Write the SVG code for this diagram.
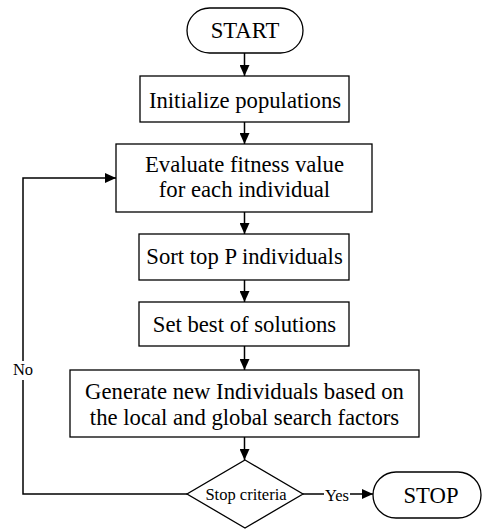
<svg xmlns="http://www.w3.org/2000/svg" width="484" height="529" viewBox="0 0 484 529">
<style>
.box{fill:#fff;stroke:#000;stroke-width:1.3}
.t{font-family:"Liberation Serif","Times New Roman",serif;font-size:22.7px;fill:#000;text-anchor:middle}
.s{font-family:"Liberation Serif","Times New Roman",serif;font-size:16.5px;fill:#000;text-anchor:middle}
.c{fill:none;stroke:#000;stroke-width:1.5}
</style>
<defs>
<marker id="ah" markerUnits="userSpaceOnUse" markerWidth="11" markerHeight="10" refX="11" refY="5" orient="auto">
<path d="M0,0 L11,5 L0,10 Z" fill="#000"/>
</marker>
</defs>
<rect width="484" height="529" fill="#fff"/>
<g id="connectors">
<line class="c" x1="244.5" y1="53" x2="244.5" y2="76" marker-end="url(#ah)"/>
<line class="c" x1="244.5" y1="122" x2="244.5" y2="144" marker-end="url(#ah)"/>
<line class="c" x1="244.5" y1="212" x2="244.5" y2="234" marker-end="url(#ah)"/>
<line class="c" x1="244.5" y1="280" x2="244.5" y2="302" marker-end="url(#ah)"/>
<line class="c" x1="244.5" y1="346" x2="244.5" y2="370" marker-end="url(#ah)"/>
<line class="c" x1="244.5" y1="437" x2="244.5" y2="460" marker-end="url(#ah)"/>
<polyline class="c" points="187,494 23,494 23,178 116,178" marker-end="url(#ah)"/>
<line class="c" x1="303" y1="494" x2="373" y2="494" marker-end="url(#ah)"/>
<rect x="12" y="361" width="22" height="19" fill="#fff"/>
<text class="s" x="23" y="375">No</text>
<rect x="324" y="486" width="26" height="17" fill="#fff"/>
<text class="s" x="337" y="501">Yes</text>
</g>
<g id="start">
<rect class="box" x="187" y="8" width="116" height="45" rx="22.5"/>
<text class="t" x="245" y="38">START</text>
</g>
<g id="init">
<rect class="box" x="140" y="76" width="209" height="46"/>
<text class="t" x="245" y="108">Initialize populations</text>
</g>
<g id="evaluate">
<rect class="box" x="116" y="144" width="256" height="68"/>
<text class="t" x="244.5" y="172">Evaluate fitness value</text>
<text class="t" x="244.5" y="197">for each individual</text>
</g>
<g id="sort">
<rect class="box" x="139" y="234" width="210" height="46"/>
<text class="t" x="244.5" y="264">Sort top P individuals</text>
</g>
<g id="setbest">
<rect class="box" x="139" y="302" width="210" height="44"/>
<text class="t" x="244.5" y="332">Set best of solutions</text>
</g>
<g id="generate">
<rect class="box" x="70" y="370" width="349" height="67"/>
<text class="t" x="244.5" y="399">Generate new Individuals based on</text>
<text class="t" x="244.5" y="425">the local and global search factors</text>
</g>
<g id="decision">
<polygon class="box" points="245,460 303,494 245,528 187,494"/>
<text class="s" x="246" y="500">Stop criteria</text>
</g>
<g id="stop">
<rect class="box" x="373" y="472" width="108" height="46" rx="23"/>
<text class="t" x="431" y="503">STOP</text>
</g>
</svg>
